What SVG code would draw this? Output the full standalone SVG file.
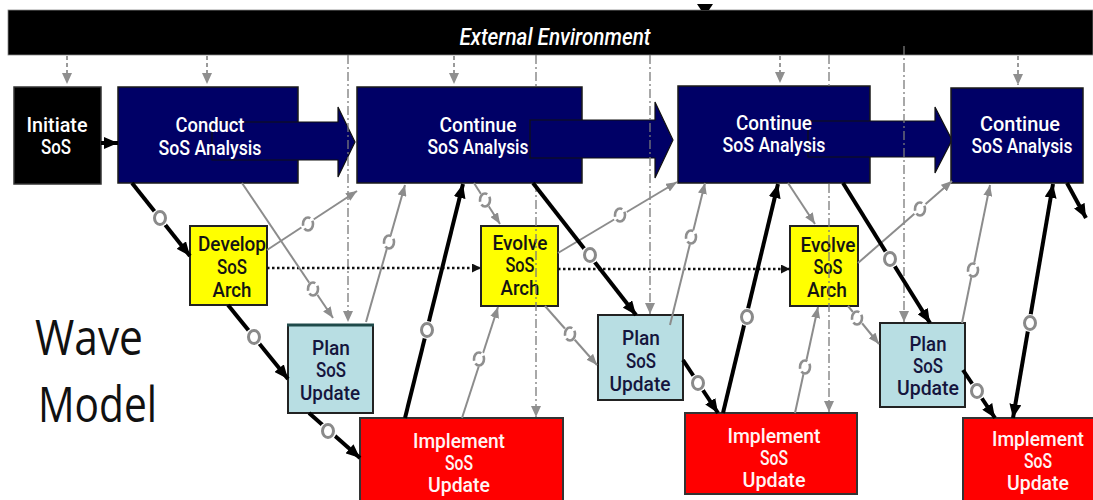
<svg xmlns="http://www.w3.org/2000/svg" width="1093" height="500" viewBox="0 0 1093 500">
<style>
.t{font-family:Roboto,'Liberation Sans',Arial,sans-serif;font-weight:500;font-size:21px;text-anchor:middle}
.w{fill:#ffffff}
.k{fill:#141414}
.p{fill:#15153d}
.r{fill:#fff4f4}
.nav{fill:#000066;stroke:#1a1a1a;stroke-width:1.5}
.yel{fill:#ffff00;stroke:#222;stroke-width:2}
.pln{fill:#b8dee3;stroke:#222;stroke-width:2}
.red{fill:#ff0000;stroke:#333;stroke-width:2}
.blk{fill:#000066;stroke:#111;stroke-width:1.2}
.thick{stroke:#000;stroke-width:4;fill:none;marker-end:url(#ak)}
.both{marker-start:url(#ak)}
.thin{stroke:#8c8c8c;stroke-width:2;fill:none;marker-end:url(#ag)}
.dash{stroke:#9a9a9a;stroke-width:2;stroke-dasharray:4 3;fill:none;marker-end:url(#ad)}
.dd{stroke:#7a7a7a;stroke-width:1.3;stroke-dasharray:9 3 2 3;fill:none}
.dda{marker-end:url(#ad)}
.dot{stroke:#111;stroke-width:2.5;stroke-dasharray:2.5 2.5;fill:none;marker-end:url(#adot)}
.big{font-family:'Open Sans','Liberation Sans',Arial,sans-serif;font-size:50px;fill:#111}
</style>
<defs>
<marker id="ak" markerUnits="userSpaceOnUse" markerWidth="14" markerHeight="12" refX="14" refY="6" orient="auto-start-reverse"><path d="M0,0 L14,6 L0,12 z" fill="#000"/></marker>
<marker id="ag" markerUnits="userSpaceOnUse" markerWidth="11" markerHeight="9" refX="11" refY="4.5" orient="auto"><path d="M0,0 L11,4.5 L0,9 z" fill="#8c8c8c"/></marker>
<marker id="ad" markerUnits="userSpaceOnUse" markerWidth="11" markerHeight="10" refX="11" refY="5" orient="auto"><path d="M0,0 L11,5 L0,10 z" fill="#8f8f8f"/></marker>
<marker id="adot" markerUnits="userSpaceOnUse" markerWidth="9" markerHeight="9" refX="9" refY="4.5" orient="auto"><path d="M0,0 L9,4.5 L0,9 z" fill="#111"/></marker>
<g id="ringK"><circle r="9" fill="#fff"/><ellipse rx="5.5" ry="6.5" fill="#fff" stroke="#8a8a8a" stroke-width="3"/></g>
<g id="ringG"><circle r="7.5" fill="#fff"/><ellipse rx="5" ry="6.5" fill="#fff" stroke="#8f8f8f" stroke-width="2.6" stroke-dasharray="13 3"/></g>
</defs>

<g id="external-environment">
<rect x="8" y="10" width="1085" height="45" fill="#000" stroke="#888" stroke-width="0.8"/>
<polygon points="697,4 713,4 709,10 701,10" fill="#000"/>
<text x="555" y="45" class="t w" style="font-size:24px;font-style:italic" textLength="191" lengthAdjust="spacingAndGlyphs">External Environment</text>
</g>

<g id="initiate-sos">
<rect x="14" y="87" width="87" height="97" fill="#000" stroke="#333" stroke-width="1.5"/>
<text class="t w" x="57" y="132" textLength="61" lengthAdjust="spacingAndGlyphs">Initiate</text>
<text class="t w" x="56" y="154" textLength="30" lengthAdjust="spacingAndGlyphs">SoS</text>
</g>

<g id="conduct-sos-analysis">
<rect x="118" y="87" width="180" height="96" class="nav"/>
<polygon class="blk" points="212,122 338,122 338,107 355,142 338,177 338,160 212,160"/>
<text class="t w" x="210" y="132" textLength="69" lengthAdjust="spacingAndGlyphs">Conduct</text>
<text class="t w" x="210" y="155" textLength="103" lengthAdjust="spacingAndGlyphs">SoS Analysis</text>
</g>

<g id="continue-sos-analysis-1">
<rect x="357" y="87" width="225" height="96" class="nav"/>
<polygon class="blk" points="530,120 655,120 655,102 673,140 655,178 655,158 530,158"/>
<text class="t w" x="478" y="132" textLength="77" lengthAdjust="spacingAndGlyphs">Continue</text>
<text class="t w" x="478" y="154" textLength="101" lengthAdjust="spacingAndGlyphs">SoS Analysis</text>
</g>

<g id="continue-sos-analysis-2">
<rect x="678" y="86" width="192" height="97" class="nav"/>
<polygon class="blk" points="808,121 935,121 935,107 952,140 935,173 935,157 808,157"/>
<text class="t w" x="774" y="130" textLength="76" lengthAdjust="spacingAndGlyphs">Continue</text>
<text class="t w" x="774" y="152" textLength="103" lengthAdjust="spacingAndGlyphs">SoS Analysis</text>
</g>

<g id="continue-sos-analysis-3">
<rect x="951" y="88" width="132" height="95" class="nav"/>
<text class="t w" x="1020" y="131" textLength="80" lengthAdjust="spacingAndGlyphs">Continue</text>
<text class="t w" x="1022" y="153" textLength="101" lengthAdjust="spacingAndGlyphs">SoS Analysis</text>
</g>

<g id="develop-sos-arch">
<rect x="190" y="226" width="77" height="79" class="yel"/>
<text class="t k" x="232" y="251" textLength="68" lengthAdjust="spacingAndGlyphs">Develop</text>
<text class="t k" x="232" y="274" textLength="30" lengthAdjust="spacingAndGlyphs">SoS</text>
<text class="t k" x="232" y="297" textLength="39" lengthAdjust="spacingAndGlyphs">Arch</text>
</g>

<g id="plan-sos-update-1">
<rect x="288" y="325" width="85" height="88" class="pln"/>
<line x1="287" y1="325" x2="374" y2="325" stroke="#1f4a4a" stroke-width="3"/>
<text class="t p" x="331" y="355" textLength="38" lengthAdjust="spacingAndGlyphs">Plan</text>
<text class="t p" x="331" y="377" textLength="30" lengthAdjust="spacingAndGlyphs">SoS</text>
<text class="t p" x="330" y="400" textLength="60" lengthAdjust="spacingAndGlyphs">Update</text>
</g>

<g id="evolve-sos-arch-1">
<rect x="481" y="226" width="77" height="80" class="yel"/>
<text class="t k" x="520" y="250" textLength="55" lengthAdjust="spacingAndGlyphs">Evolve</text>
<text class="t k" x="520" y="272" textLength="29" lengthAdjust="spacingAndGlyphs">SoS</text>
<text class="t k" x="520" y="295" textLength="39" lengthAdjust="spacingAndGlyphs">Arch</text>
</g>

<g id="plan-sos-update-2">
<rect x="598" y="315" width="85" height="85" class="pln"/>
<text class="t p" x="641" y="345" textLength="38" lengthAdjust="spacingAndGlyphs">Plan</text>
<text class="t p" x="641" y="368" textLength="30" lengthAdjust="spacingAndGlyphs">SoS</text>
<text class="t p" x="640" y="391" textLength="61" lengthAdjust="spacingAndGlyphs">Update</text>
</g>

<g id="implement-sos-update-1">
<rect x="360" y="418" width="203" height="90" class="red"/>
<text class="t r" x="459" y="448" textLength="92" lengthAdjust="spacingAndGlyphs">Implement</text>
<text class="t r" x="459" y="470" textLength="28" lengthAdjust="spacingAndGlyphs">SoS</text>
<text class="t r" x="459" y="492" textLength="62" lengthAdjust="spacingAndGlyphs">Update</text>
</g>

<g id="evolve-sos-arch-2">
<rect x="790" y="226" width="68" height="80" class="yel"/>
<text class="t k" x="828" y="252" textLength="55" lengthAdjust="spacingAndGlyphs">Evolve</text>
<text class="t k" x="828" y="274" textLength="29" lengthAdjust="spacingAndGlyphs">SoS</text>
<text class="t k" x="827" y="297" textLength="40" lengthAdjust="spacingAndGlyphs">Arch</text>
</g>

<g id="plan-sos-update-3">
<rect x="880" y="323" width="85" height="84" class="pln"/>
<text class="t p" x="928" y="351" textLength="37" lengthAdjust="spacingAndGlyphs">Plan</text>
<text class="t p" x="928" y="373" textLength="30" lengthAdjust="spacingAndGlyphs">SoS</text>
<text class="t p" x="928" y="395" textLength="62" lengthAdjust="spacingAndGlyphs">Update</text>
</g>

<g id="implement-sos-update-2">
<rect x="685" y="413" width="172" height="81" class="red"/>
<text class="t r" x="774" y="443" textLength="93" lengthAdjust="spacingAndGlyphs">Implement</text>
<text class="t r" x="774" y="465" textLength="28" lengthAdjust="spacingAndGlyphs">SoS</text>
<text class="t r" x="774" y="487" textLength="63" lengthAdjust="spacingAndGlyphs">Update</text>
</g>

<g id="implement-sos-update-3">
<rect x="963" y="418" width="140" height="90" class="red"/>
<text class="t r" x="1038" y="446" textLength="92" lengthAdjust="spacingAndGlyphs">Implement</text>
<text class="t r" x="1038" y="468" textLength="28" lengthAdjust="spacingAndGlyphs">SoS</text>
<text class="t r" x="1038" y="490" textLength="62" lengthAdjust="spacingAndGlyphs">Update</text>
</g>

<g id="wave-model-label">
<text class="big" x="35" y="355" textLength="108" lengthAdjust="spacingAndGlyphs">Wave</text>
<text class="big" x="38" y="422" textLength="119" lengthAdjust="spacingAndGlyphs">Model</text>
</g>

<g id="connectors">
<path class="dash" d="M67,56 V84"/>
<path class="dash" d="M207,56 V84"/>
<path class="dash" d="M454,56 V84"/>
<path class="dash" d="M780,56 V83"/>
<path class="dash" d="M1018,56 V85"/>
<path class="dd dda" d="M348,55 V322"/>
<path class="dd" d="M536,55 V87"/>
<path class="dd dda" d="M536,183 V417"/>
<path class="dd dda" d="M650,55 V314"/>
<path class="dd" d="M829,55 V86"/>
<path class="dd dda" d="M829,184 V412"/>
<path class="dd dda" d="M904,46 V322"/>
<path class="dot" d="M267,268 H481"/>
<path class="dot" d="M558,269 H790"/>
<path class="thin" d="M242,183 L333,318"/>
<path class="thin" d="M267,250 L357,191"/>
<path class="thin" d="M366,322 L405,185"/>
<path class="thin" d="M474,183 L500,224"/>
<path class="thin" d="M462,418 L498,307"/>
<path class="thin" d="M558,253 L677,182"/>
<path class="thin" d="M545,306 L597,365"/>
<path class="thin" d="M670,325 L705,183"/>
<path class="thin" d="M788,183 L815,224"/>
<path class="thin" d="M795,413 L818,307"/>
<path class="thin" d="M858,263 L952,181"/>
<path class="thin" d="M848,306 L879,344"/>
<path class="thin" d="M962,323 L990,185"/>
<path class="thick" d="M101,143 H118"/>
<path class="thick" d="M132,183 L190,256"/>
<path class="thick" d="M228,305 L288,379"/>
<path class="thick" d="M309,413 L360,458"/>
<path class="thick" d="M405,418 L463,184"/>
<path class="thick" d="M533,183 L636,315"/>
<path class="thick" d="M683,360 L718,413"/>
<path class="thick" d="M723,413 L778,184"/>
<path class="thick" d="M843,183 L930,323"/>
<path class="thick" d="M963,370 L995,418"/>
<path class="thick both" d="M1013,418 L1053,184"/>
<path class="thick" d="M1067,183 L1086,218"/>
<use href="#ringK" x="160" y="218"/>
<use href="#ringK" x="254" y="337"/>
<use href="#ringK" x="328" y="431"/>
<use href="#ringK" x="427" y="330"/>
<use href="#ringK" x="590" y="255"/>
<use href="#ringK" x="698" y="383"/>
<use href="#ringK" x="747" y="317"/>
<use href="#ringK" x="890" y="259"/>
<use href="#ringK" x="977" y="391"/>
<use href="#ringK" x="1030" y="323"/>
<use href="#ringG" x="313" y="289"/>
<use href="#ringG" x="308" y="224"/>
<use href="#ringG" x="389" y="242"/>
<use href="#ringG" x="485" y="200"/>
<use href="#ringG" x="479" y="359"/>
<use href="#ringG" x="620" y="215"/>
<use href="#ringG" x="570" y="334"/>
<use href="#ringG" x="691" y="237"/>
<use href="#ringG" x="805" y="367"/>
<use href="#ringG" x="920" y="209"/>
<use href="#ringG" x="857" y="318"/>
<use href="#ringG" x="973" y="270"/>
</g>
</svg>
